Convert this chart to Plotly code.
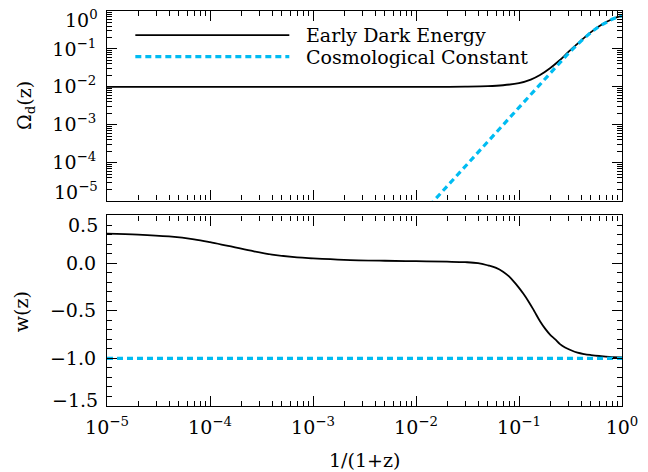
import plotly.graph_objects as go

# ---------------- data ----------------
a_omega_ede = [1e-5, 1e-4, 1e-3, 1e-2, 0.02, 0.03, 0.05, 0.07, 0.1, 0.13, 0.16,
               0.2, 0.25, 0.3, 0.35, 0.4, 0.5, 0.6, 0.7, 0.8, 0.9, 1.0]
omega_ede = [0.0100, 0.0100, 0.0100, 0.0100, 0.0100, 0.0101, 0.0104, 0.0110, 0.0125,
             0.0155, 0.0205, 0.031, 0.051, 0.082, 0.12, 0.166, 0.277, 0.396, 0.51,
             0.607, 0.687, 0.75]

a_omega_cc = [0.01, 0.015, 0.02, 0.03, 0.05, 0.07, 0.1, 0.15, 0.2, 0.25, 0.3, 0.4,
              0.5, 0.6, 0.7, 0.8, 0.9, 1.0]
omega_cc = [3.0e-6, 1.0e-5, 2.4e-5, 8.1e-5, 3.75e-4, 1.03e-3, 3.0e-3, 0.0100, 0.0234,
            0.0448, 0.075, 0.161, 0.273, 0.393, 0.507, 0.606, 0.686, 0.75]

a_w_ede = [1e-5, 2e-5, 4e-5, 7e-5, 1e-4, 1.5e-4, 2.5e-4, 4e-4, 7e-4, 1e-3, 2e-3,
           5e-3, 1e-2, 2e-2, 3e-2, 4e-2, 0.05, 0.06, 0.07, 0.08, 0.09, 0.1, 0.11,
           0.125, 0.14, 0.16, 0.18, 0.2, 0.225, 0.25, 0.28, 0.32, 0.37, 0.43, 0.5,
           0.6, 0.75, 1.0]
w_ede = [0.31, 0.30, 0.28, 0.25, 0.22, 0.18, 0.13, 0.09, 0.06, 0.05, 0.035, 0.025,
         0.02, 0.015, 0.01, 0.0, -0.024, -0.05, -0.09, -0.14, -0.20, -0.26, -0.32,
         -0.41, -0.50, -0.61, -0.69, -0.75, -0.80, -0.85, -0.885, -0.915, -0.94,
         -0.955, -0.965, -0.975, -0.985, -0.99]

a_w_cc = [1e-5, 1.0]
w_cc = [-1.0, -1.0]

series_names = ["Early Dark Energy", "Cosmological Constant"]

x_tickvals = [1e-5, 1e-4, 1e-3, 1e-2, 1e-1, 1.0]
x_ticktext = ["10<sup>−5</sup>", "10<sup>−4</sup>", "10<sup>−3</sup>",
              "10<sup>−2</sup>", "10<sup>−1</sup>", "10<sup>0</sup>"]
omega_tickvals = [1e-5, 1e-4, 1e-3, 1e-2, 1e-1, 1.0]
omega_ticktext = ["10<sup>−5</sup>", "10<sup>−4</sup>", "10<sup>−3</sup>",
                  "10<sup>−2</sup>", "10<sup>−1</sup>", "10<sup>0</sup>"]
w_tickvals = [0.5, 0.0, -0.5, -1.0, -1.5]
w_ticktext = ["0.5", "0.0", "−0.5", "−1.0", "−1.5"]

# ---------------- style ----------------
BLACK = "black"
CYAN = "#00BCF2"
FONT = "DejaVu Serif"
FS = 19
log_minor = [k * 10.0 ** e for e in range(-5, 0) for k in range(2, 10)]

fig = go.Figure()
fig.add_trace(go.Scatter(x=a_omega_ede, y=omega_ede, xaxis="x2", yaxis="y2",
                         mode="lines", name=series_names[0],
                         line=dict(color=BLACK, width=1.8, shape="spline", smoothing=0.9)))
fig.add_trace(go.Scatter(x=a_omega_cc, y=omega_cc, xaxis="x2", yaxis="y2",
                         mode="lines", name=series_names[1],
                         line=dict(color=CYAN, width=3.2, dash="6px,4px")))
fig.add_trace(go.Scatter(x=a_w_ede, y=w_ede, xaxis="x", yaxis="y",
                         mode="lines", name=series_names[0],
                         line=dict(color=BLACK, width=1.8, shape="spline", smoothing=1.0)))
fig.add_trace(go.Scatter(x=a_w_cc, y=w_cc, xaxis="x", yaxis="y",
                         mode="lines", name=series_names[1],
                         line=dict(color=CYAN, width=3.2, dash="6px,4px")))

common = dict(showline=True, linecolor=BLACK, linewidth=1.2, mirror="allticks",
              ticks="inside", ticklen=10, tickwidth=1, tickcolor=BLACK,
              showgrid=False, zeroline=False)
log_minor_cfg = dict(tickmode="array", tickvals=log_minor, ticks="inside",
                     ticklen=5, tickwidth=1, tickcolor=BLACK, showgrid=False)

top_lo, bot_hi = 0.5202, 0.4823

fig.update_layout(
    width=648, height=472,
    margin=dict(l=107, r=19, t=10, b=66),
    paper_bgcolor="white", plot_bgcolor="white",
    showlegend=False,
    font=dict(family=FONT, size=FS, color=BLACK),
    xaxis=dict(type="log", range=[-5, 0], domain=[0, 1], anchor="y",
               tickmode="array", tickvals=x_tickvals, ticktext=x_ticktext,
               ticklabelstandoff=4, minor=log_minor_cfg, **common),
    yaxis=dict(range=[-1.5, 0.5], domain=[0, bot_hi], anchor="x",
               tickmode="array", tickvals=w_tickvals[1:-1], ticktext=w_ticktext[1:-1],
               ticklabelstandoff=6,
               minor=dict(dtick=0.1, tick0=0, ticks="inside", ticklen=5,
                          tickwidth=1, tickcolor=BLACK, showgrid=False),
               **common),
    xaxis2=dict(type="log", range=[-5, 0], domain=[0, 1], anchor="y2", matches="x",
                tickmode="array", tickvals=x_tickvals, showticklabels=False,
                minor=log_minor_cfg, **common),
    yaxis2=dict(type="log", range=[-5, 0], domain=[top_lo, 1], anchor="x2",
                tickmode="array", tickvals=omega_tickvals[1:-1],
                ticktext=omega_ticktext[1:-1], ticklabelstandoff=6,
                minor=log_minor_cfg, **common),
)

annotations = []
# end tick labels, nudged inward as in the reference
end_labels = [
    ("y2", -5, omega_ticktext[0], 10),
    ("y2", 0, omega_ticktext[-1], -8),
    ("y", 0.5, w_ticktext[0], -10),
    ("y", -1.5, w_ticktext[-1], 6),
]
for yref, yv, txt, ysh in end_labels:
    annotations.append(dict(xref="paper", yref=yref, x=0, y=yv, text=txt,
                            showarrow=False, xanchor="right", yanchor="middle",
                            xshift=-7, yshift=ysh, font=dict(size=FS)))
# axis titles
annotations.append(dict(xref="paper", yref="paper", x=-0.157, y=0.76,
                        text="Ω<sub>d</sub>(z)", textangle=-90, showarrow=False,
                        xanchor="center", yanchor="middle", font=dict(size=FS)))
annotations.append(dict(xref="paper", yref="paper", x=-0.167, y=0.24,
                        text="w(z)", textangle=-90, showarrow=False,
                        xanchor="center", yanchor="middle", font=dict(size=FS)))
annotations.append(dict(xref="paper", yref="paper", x=0.5, y=-0.137,
                        text="1/(1+z)", showarrow=False,
                        xanchor="center", yanchor="middle", font=dict(size=FS)))

# legend drawn inside the top panel
leg_y = [0.939, 0.8846]
leg_styles = [dict(color=BLACK, width=1.8), dict(color=CYAN, width=3.2, dash="6px,4px")]
shapes = []
for yy, st, nm in zip(leg_y, leg_styles, series_names):
    shapes.append(dict(type="line", xref="paper", yref="paper",
                       x0=0.055, x1=0.354, y0=yy, y1=yy, line=st))
    annotations.append(dict(xref="paper", yref="paper", x=0.3826, y=yy, text=nm,
                            showarrow=False, xanchor="left", yanchor="middle",
                            font=dict(size=FS)))

fig.update_layout(annotations=annotations, shapes=shapes)
fig.write_html("out.html")
